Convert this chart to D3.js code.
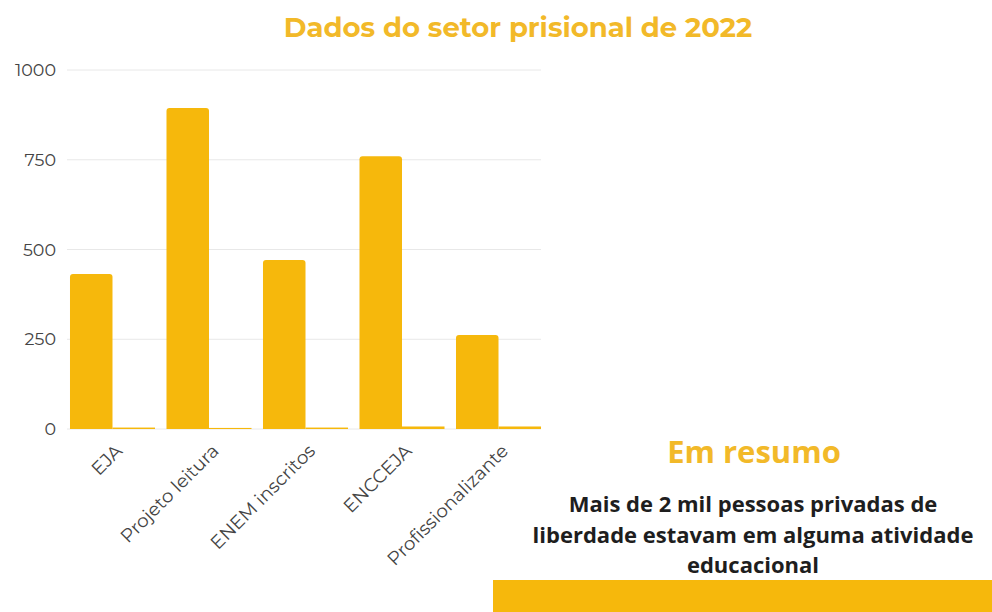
<!DOCTYPE html>
<html>
<head>
<meta charset="utf-8">
<script src="https://cdn.jsdelivr.net/npm/d3@7"></script>
<style>
  body { margin: 0; background: #fff; }
  svg { display: block; }
</style>
</head>
<body>
<script>
// dados
var categories = ['EJA', 'Projeto leitura', 'ENEM inscritos', 'ENCCEJA', 'Profissionalizante'];
var seriesMain = [432, 894, 471, 760, 262];
var seriesSmall = [4, 3, 4, 7, 7];
var yTicks = [0, 250, 500, 750, 1000];
var summaryLines = ['Mais de 2 mil pessoas privadas de', 'liberdade estavam em alguma atividade', 'educacional'];

var width = 992, height = 612;
var yellow = '#f6b80c';

var svg = d3.select('body').append('svg').attr('width', width).attr('height', height);

var x = d3.scaleBand().domain(categories).range([64.2, 546.8]).paddingInner(0.119).paddingOuter(0.06);
var sub = d3.scaleBand().domain([0, 1]).range([0, x.bandwidth()]);
var y = d3.scaleLinear().domain([0, 1000]).range([429, 70]);

// grid
svg.append('g').selectAll('line')
  .data(yTicks)
  .enter()
  .append('line')
  .attr('x1', 67).attr('x2', 541)
  .attr('y1', function (d) { return y(d); })
  .attr('y2', function (d) { return y(d); })
  .attr('stroke', '#e8e8e8')
  .attr('stroke-width', 1);

// y axis labels
var yAxis = d3.axisLeft(y).tickValues(yTicks).tickFormat(d3.format('d')).tickSize(0).tickPadding(0);
var gy = svg.append('g').attr('transform', 'translate(56,0)').call(yAxis);
gy.select('.domain').remove();
gy.selectAll('text')
  .attr('font-family', 'Montserrat, Lato, sans-serif')
  .attr('font-size', 17.5)
  .attr('fill', '#444');

// barras
function barPath(x0, w, v) {
  var top = y(v), base = y(0), r = Math.min(3, (base - top));
  return 'M' + x0 + ',' + base + 'V' + (top + r) + 'Q' + x0 + ',' + top + ' ' + (x0 + r) + ',' + top +
    'H' + (x0 + w - r) + 'Q' + (x0 + w) + ',' + top + ' ' + (x0 + w) + ',' + (top + r) + 'V' + base + 'Z';
}

svg.append('g').selectAll('path')
  .data(seriesMain)
  .enter()
  .append('path')
  .attr('d', function (d, i) { return barPath(x(categories[i]) + sub(0), sub.bandwidth(), d); })
  .attr('fill', yellow);

svg.append('g').selectAll('rect')
  .data(seriesSmall)
  .enter()
  .append('rect')
  .attr('x', function (d, i) { return x(categories[i]) + sub(1); })
  .attr('width', sub.bandwidth())
  .attr('y', function (d) { return y(d); })
  .attr('height', function (d) { return y(0) - y(d); })
  .attr('fill', yellow);

// x labels
var xAxis = d3.axisBottom(x).tickSize(0).tickPadding(0);
var gx = svg.append('g').attr('transform', 'translate(0,' + 429 + ')').call(xAxis);
gx.select('.domain').remove();
gx.selectAll('text')
  .attr('font-family', 'Montserrat, Lato, sans-serif')
  .attr('font-size', 18.5)
  .attr('fill', '#444')
  .attr('text-anchor', 'end')
  .attr('dy', null)
  .attr('y', 0)
  .attr('transform', 'translate(11,23) rotate(-45)');

// titulo
svg.append('text')
  .attr('x', 518).attr('y', 37)
  .attr('text-anchor', 'middle')
  .attr('font-family', 'Montserrat, "DejaVu Sans", sans-serif')
  .attr('font-weight', 'bold')
  .attr('font-size', 27.5)
  .attr('fill', '#f2b929')
  .text('Dados do setor prisional de 2022');

// resumo
svg.append('text')
  .attr('x', 754).attr('y', 463)
  .attr('text-anchor', 'middle')
  .attr('font-family', '"Open Sans", sans-serif')
  .attr('font-weight', 'bold')
  .attr('font-size', 31)
  .attr('fill', '#f2b929')
  .text('Em resumo');

svg.append('g').selectAll('text')
  .data(summaryLines)
  .enter()
  .append('text')
  .attr('x', 753)
  .attr('y', function (d, i) { return 512 + i * 30.5; })
  .attr('text-anchor', 'middle')
  .attr('font-family', '"Open Sans", sans-serif')
  .attr('font-weight', 'bold')
  .attr('font-size', 22)
  .attr('fill', '#1e1e1e')
  .text(function (d) { return d; });

svg.append('rect')
  .attr('x', 493).attr('y', 580)
  .attr('width', width - 493).attr('height', height - 580)
  .attr('fill', yellow);
</script>
</body>
</html>
